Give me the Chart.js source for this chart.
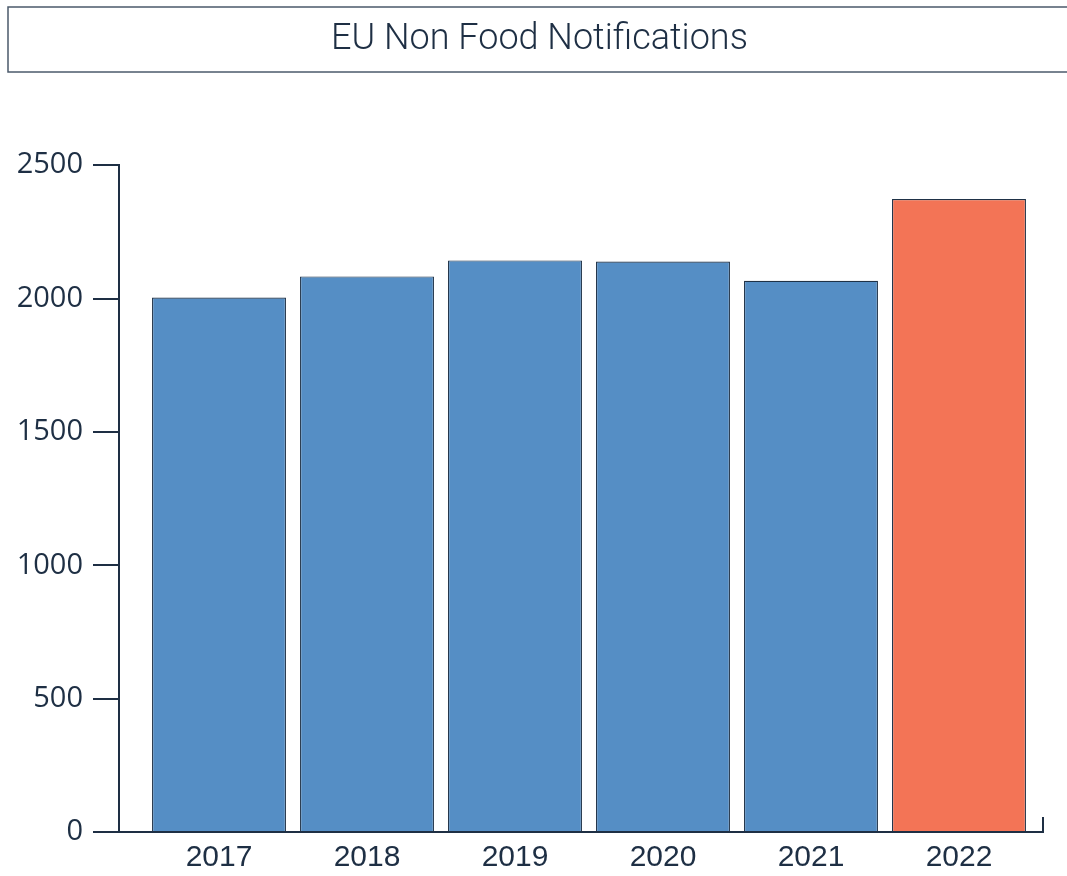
<!DOCTYPE html>
<html>
<head>
<meta charset="utf-8">
<script src="https://cdn.jsdelivr.net/npm/chart.js@4"></script>
<style>
  html, body { margin: 0; padding: 0; background: #ffffff; }
  #wrap { width: 1067px; height: 876px; }
</style>
</head>
<body>
<div id="wrap"><canvas id="c" width="1067" height="876"></canvas></div>
<script>
const titleText = 'EU Non Food Notifications';
const years = ['2017', '2018', '2019', '2020', '2021', '2022'];
const notifications = [2004, 2083, 2143, 2139, 2067, 2373];
const barColors = ['#558ec5', '#558ec5', '#558ec5', '#558ec5', '#558ec5', '#f37456'];
const yTicks = [0, 500, 1000, 1500, 2000, 2500];

const ink = '#1e2f44';

const titleBoxPlugin = {
  id: 'titleBox',
  afterDraw(chart) {
    const tb = chart.titleBlock;
    const ctx = chart.ctx;
    ctx.save();
    ctx.strokeStyle = '#4b5a6b';
    ctx.lineWidth = 1.5;
    ctx.strokeRect(tb.left - 4, tb.top, tb.width + 20, 65);
    // small closing tick at right end of x axis
    const a = chart.chartArea;
    ctx.strokeStyle = ink;
    ctx.lineWidth = 2;
    ctx.beginPath();
    ctx.moveTo(a.right, a.bottom + 1);
    ctx.lineTo(a.right, a.bottom - 15);
    ctx.stroke();
    ctx.restore();
  }
};

new Chart(document.getElementById('c'), {
  type: 'bar',
  data: {
    datasets: [{
      data: notifications.map((v, i) => ({ x: i, y: v })),
      backgroundColor: barColors,
      borderColor: '#1f3247',
      borderWidth: 1.2,
      barPercentage: 0.905,
      categoryPercentage: 1.0
    }]
  },
  options: {
    responsive: false,
    animation: false,
    layout: { padding: { top: 7, left: 12, right: 0, bottom: 0 } },
    plugins: {
      legend: { display: false },
      tooltip: { enabled: false },
      title: {
        display: true,
        text: titleText,
        color: ink,
        font: { family: 'Roboto', size: 36, weight: '300' },
        padding: { top: 11, bottom: 104 }
      }
    },
    scales: {
      x: {
        type: 'linear',
        offset: false,
        min: -0.6757,
        max: 5.5676,
        afterBuildTicks(axis) { axis.ticks = years.map((_, i) => ({ value: i })); },
        afterFit(scale) { scale.height = 44; },
        ticks: {
          callback: (v) => years[v],
          color: ink,
          font: { family: 'Liberation Sans', size: 30 },
          padding: 8,
          maxRotation: 0,
          autoSkip: false
        },
        grid: { display: true, offset: false, drawOnChartArea: false, drawTicks: false, tickLength: 0 },
        border: { display: true, color: ink, width: 2 }
      },
      y: {
        min: 0,
        max: 2500,
        afterBuildTicks(axis) { axis.ticks = yTicks.map(v => ({ value: v })); },
        afterFit(scale) { scale.width = 107; },
        ticks: {
          callback: (v) => String(v),
          color: ink,
          font: { family: 'Open Sans', size: 29 },
          padding: 10
        },
        grid: { display: true, drawOnChartArea: false, drawTicks: true, tickLength: 26, color: ink, lineWidth: 2 },
        border: { display: true, color: ink, width: 2 }
      },
      y2: {
        position: 'right',
        display: true,
        afterFit(scale) { scale.width = 24; },
        ticks: { display: false },
        grid: { display: false },
        border: { display: false }
      }
    }
  },
  plugins: [titleBoxPlugin]
});
</script>
</body>
</html>
